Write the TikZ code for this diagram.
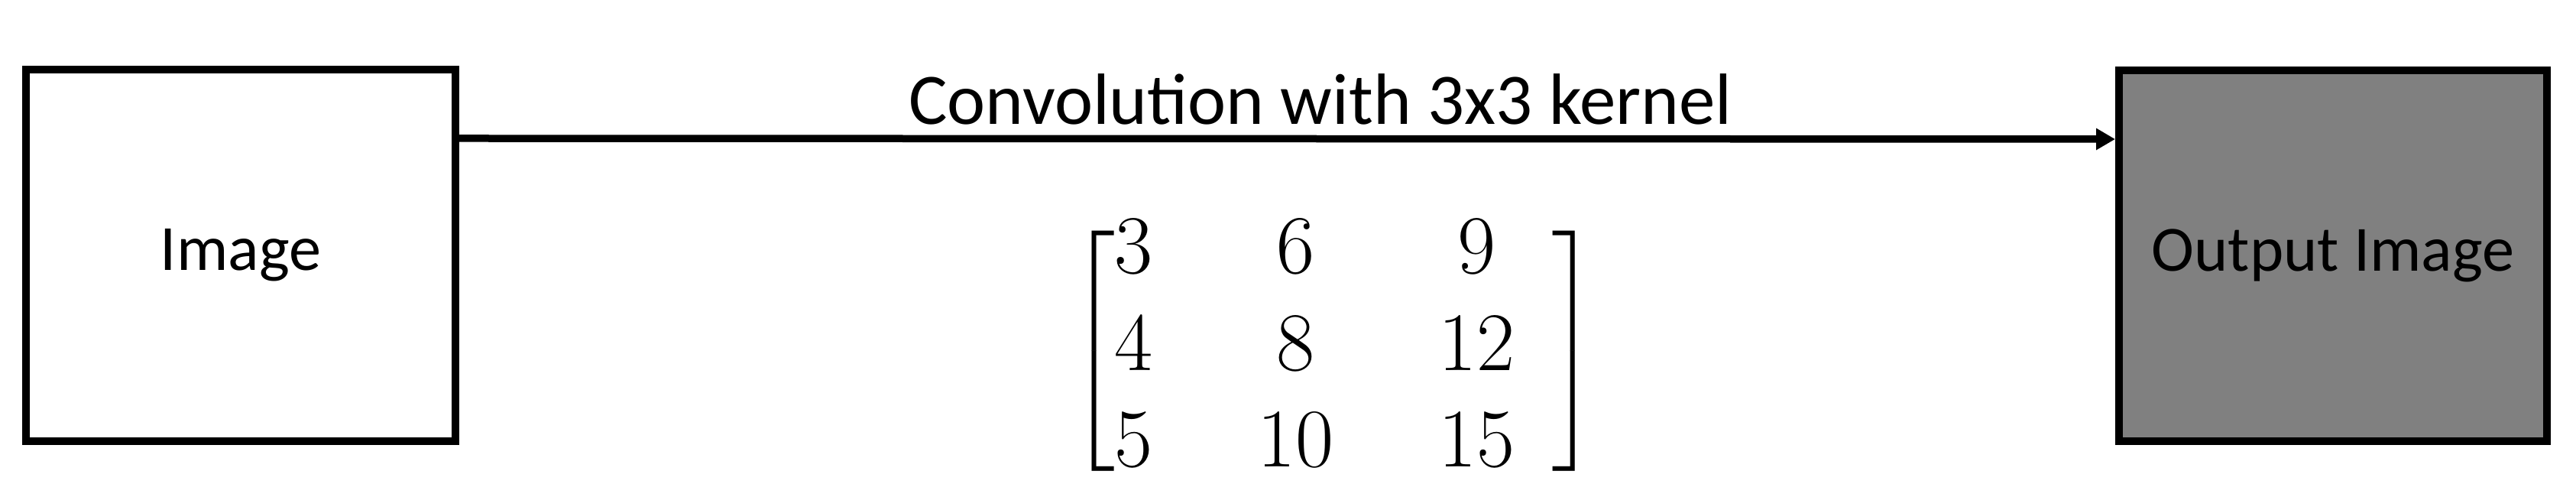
\RequirePackage{fix-cm}
\documentclass[tikz,border=0pt]{standalone}
\usepackage{amsmath}
\usepackage[no-math]{fontspec}
\setmainfont{Carlito}
\usetikzlibrary{positioning, arrows.meta, calc}

\begin{document}
\begin{tikzpicture}[font=\fontsize{27}{32}\selectfont]
    \useasboundingbox (0,0) rectangle (33.71,6.33);
    \node (Img) [draw, line width=0.1cm, fill=white, minimum width=5.62cm, minimum height=4.86cm, label={[font=\fontsize{24}{29}\selectfont]center:Image}] at (3.15,2.99) {};
    \node (Out) [draw, line width=0.1cm, fill=black!50, minimum width=5.60cm, minimum height=4.85cm, label={[font=\fontsize{24}{29}\selectfont]center:Output Image}] at (30.53,2.985) {};
    \draw [-{Triangle[length=0.25cm, width=0.27cm]}, line width=0.095cm] ([yshift=-0.95cm]Img.north east) -- ([yshift=-0.95cm]Out.north west)
        node (Conv) [pos=0.52, anchor=base, yshift=0.19cm, inner sep=0pt] {Convolution with 3x3 kernel};
    % kernel values
    \node (K) [font=\fontsize{31}{36}\selectfont, inner sep=0pt] at (17.45,1.74)
        {\setlength{\arraycolsep}{19.5pt}\delimiterfactor=700 \delimitershortfall=24pt$\left[\begin{matrix} 3 & 6 & 9\\ 4 & 8 & 12\\ 5 & 10 & 15 \end{matrix}\mkern8mu\right]$};
\end{tikzpicture}
\end{document}
